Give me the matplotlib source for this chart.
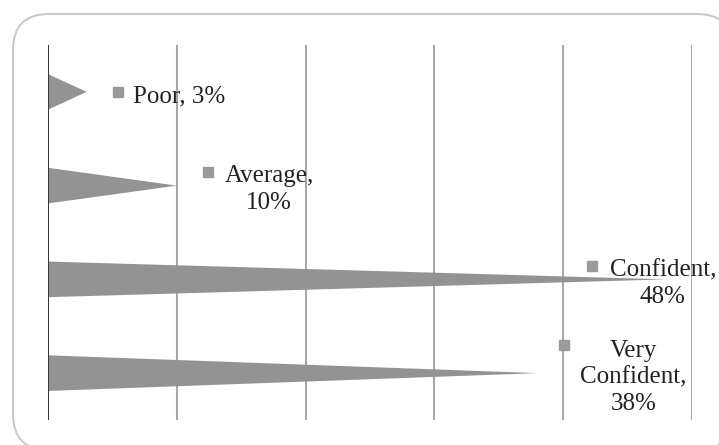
import matplotlib
matplotlib.use('Agg')

import matplotlib.pyplot as plt
from matplotlib.patches import FancyBboxPatch

categorias = ['Poor', 'Average', 'Confident', 'Very Confident']
porcentajes = [3, 10, 48, 38]
etiquetas = ['Poor, 3%', 'Average,\n10%', 'Confident,\n48%', 'Very\nConfident,\n38%']

# posición horizontal (en %) del marcador y del texto de cada etiqueta
x_marcador = [5.4, 12.4, 42.2, 40.1]
x_texto = [6.6, 13.7, 43.6, 41.3]

gris_barra = '#939393'
gris_rejilla = '#a8a8a8'

fig = plt.figure(figsize=(7.19, 4.45), dpi=100)

# marco redondeado alrededor del gráfico (detrás de los ejes)
marco = FancyBboxPatch((13 / 719, 1 - 450 / 445), 720 / 719, 436 / 445,
                       boxstyle='round,pad=0,rounding_size=0.05',
                       transform=fig.transFigure, facecolor='white',
                       edgecolor='#c8c8c8', linewidth=1.4, mutation_aspect=719 / 445,
                       zorder=-5)
fig.patches.append(marco)

ax = fig.add_axes([48 / 719, 1 - 420 / 445, 644 / 719, 375 / 445])
ax.set_facecolor('none')

alto = 0.19
for i, v in enumerate(porcentajes):
    ax.fill([0, v, 0], [i - alto, i, i + alto], color=gris_barra, lw=0, zorder=2)

for x in range(10, 51, 10):
    ax.axvline(x, color=gris_rejilla, lw=1.5, zorder=1)
ax.axvline(0, color='#3a3a3a', lw=1.5, zorder=3)

paso_linea = 0.30
baja = 0.045
for i, texto in enumerate(etiquetas):
    n = texto.count('\n') + 1
    y_primera = i + baja - (n - 1) * paso_linea / 2
    ax.plot(x_marcador[i], y_primera - 0.04, marker='s', markersize=7.5,
            color='#9a9a9a', zorder=4)
    ax.text(x_texto[i], i + baja, texto, ha='left', va='center', multialignment='center',
            fontsize=18, family='Liberation Serif', color='#222222',
            linespacing=1.28, zorder=4)

ax.set_xlim(0, 50)
ax.set_ylim(3.5, -0.5)
ax.set_xticks([])
ax.set_yticks([])
for lado in ax.spines.values():
    lado.set_visible(False)

fig.savefig('out.png', dpi=100)
plt.close(fig)
